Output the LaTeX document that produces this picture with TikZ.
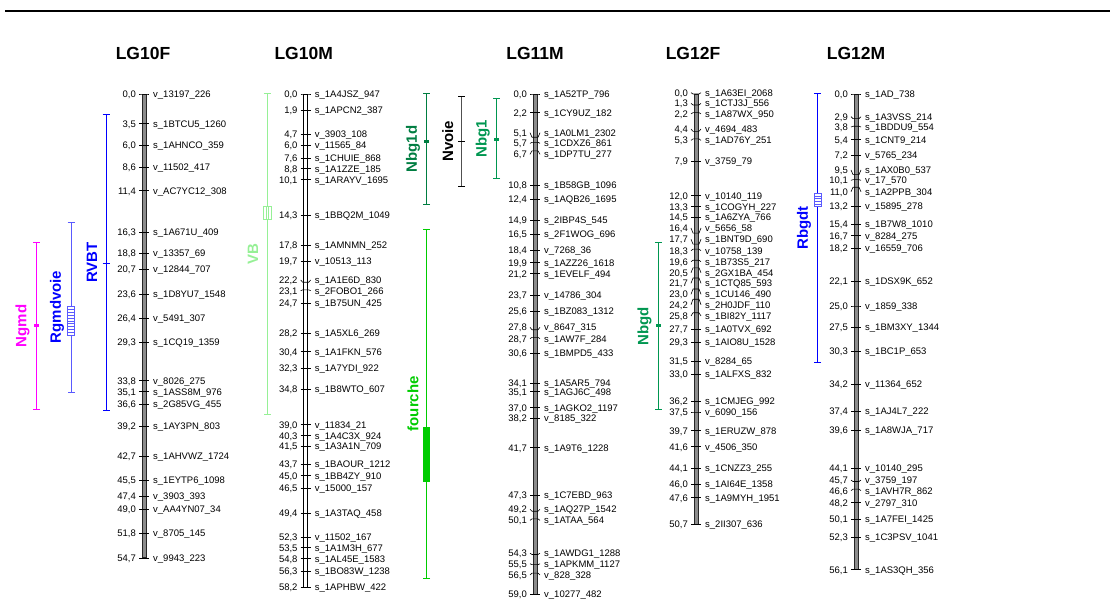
\documentclass[tikz,border=0pt]{standalone}
\usepackage{fontspec}
\setmainfont{Liberation Sans}
\usetikzlibrary{arrows.meta,positioning}
\definecolor{rvbtblue}{RGB}{0,0,255}
\definecolor{rgmline}{RGB}{90,90,255}
\definecolor{ngmdpink}{RGB}{255,0,255}
\definecolor{vbgreen}{RGB}{150,240,150}
\definecolor{fourchegreen}{RGB}{0,204,0}
\definecolor{nbgdark}{RGB}{0,125,65}
\definecolor{nbggreen}{RGB}{0,150,80}
\definecolor{nvoiegray}{RGB}{80,80,80}
\tikzstyle{chrom}=[draw=black!85,fill=black!45,line width=0.8pt]
\tikzstyle{chromwhite}=[chrom,fill=white,draw=black,line width=0.9pt]
\tikzstyle{lgtitle}=[font=\fontsize{17.5}{20}\selectfont\bfseries,inner sep=0pt]
\tikzstyle{cmval}=[anchor=east,inner xsep=3pt,inner ysep=0pt,text height=6.8pt,text depth=0pt,font=\fontsize{9.5}{11}\selectfont,text=black]
\tikzstyle{mname}=[cmval,anchor=west,inner xsep=4pt]
\tikzstyle{tickline}=[line width=0.6pt,black]
\tikzstyle{qtl}=[line width=0.8pt,{Bar[width=7pt]}-{Bar[width=7pt]}]
\tikzstyle{qtlname}=[rotate=90,font=\fontsize{15}{18}\selectfont\bfseries,inner sep=0pt]
% one marker: prefix, index, position (cM), label shift (px), name
\newcommand{\markerrow}[5]{%
  \pgfmathsetmacro\yp{94+8.48*#3}%
  \pgfmathsetmacro\yq{\yp+#4}%
  \node[cmval] (#1-p#2) at (-5,\yq) {\pgfmathprintnumber[fixed,fixed zerofill,precision=1,use comma,assume math mode=true]{#3}};
  \node[mname] (#1-m#2) at (5,\yq) {#5};
  \draw[tickline] (#1-p#2.east) -- (-3,\yp) -- (3,\yp) -- (#1-m#2.west);
}
\begin{document}
\begin{tikzpicture}[x=1pt,y=-1pt]
\useasboundingbox (0,0) rectangle (1110,601);
\draw[line width=2.5pt] (5,11) -- (1110,11);

% LG10F
\begin{scope}[shift={(144,0)}]
  \node[lgtitle] (t10f) at (-1,53) {LG10F};
  \draw[chrom] (-2,94) rectangle (2,{94+8.48*54.7});
  \foreach \p/\d/\n [count=\i] in {0.0/0/v\_13197\_226, 3.5/0/s\_1BTCU5\_1260, 6.0/0/s\_1AHNCO\_359,
      8.6/0/v\_11502\_417, 11.4/0/v\_AC7YC12\_308, 16.3/0/s\_1A671U\_409, 18.8/0/v\_13357\_69,
      20.7/0/v\_12844\_707, 23.6/0/s\_1D8YU7\_1548, 26.4/0/v\_5491\_307, 29.3/0/s\_1CQ19\_1359,
      33.8/0/v\_8026\_275, 35.1/0/s\_1ASS8M\_976, 36.6/0/s\_2G85VG\_455, 39.2/0/s\_1AY3PN\_803,
      42.7/0/s\_1AHVWZ\_1724, 45.5/0/s\_1EYTP6\_1098, 47.4/0/v\_3903\_393, 49.0/0/v\_AA4YN07\_34,
      51.8/0/v\_8705\_145, 54.7/0/v\_9943\_223}
    \markerrow{f10}{\i}{\p}{\d}{\n};
\end{scope}

% LG10M
\begin{scope}[shift={(305.7,0)}]
  \node[lgtitle] (t10m) at (-2,53) {LG10M};
  \draw[chromwhite] (-2,94) rectangle (2,{94+8.48*58.2});
  \foreach \p/\d/\n [count=\i] in {0.0/0/s\_1A4JSZ\_947, 1.9/0/s\_1APCN2\_387, 4.7/0/v\_3903\_108,
      6.0/0/v\_11565\_84, 7.6/0/s\_1CHUIE\_868, 8.8/0/s\_1A1ZZE\_185, 10.1/0/s\_1ARAYV\_1695,
      14.3/0/s\_1BBQ2M\_1049, 17.8/0/s\_1AMNMN\_252, 19.7/0/v\_10513\_113, 22.2/-2.3/s\_1A1E6D\_830,
      23.1/0.8/s\_2FOBO1\_266, 24.7/0/s\_1B75UN\_425, 28.2/0/s\_1A5XL6\_269, 30.4/0/s\_1A1FKN\_576,
      32.3/0/s\_1A7YDI\_922, 34.8/0/s\_1B8WTO\_607, 39.0/0/v\_11834\_21, 40.3/0/s\_1A4C3X\_924,
      41.5/0/s\_1A3A1N\_709, 43.7/0/s\_1BAOUR\_1212, 45.0/0/s\_1BB4ZY\_910, 46.5/0/v\_15000\_157,
      49.4/0/s\_1A3TAQ\_458, 52.3/0/v\_11502\_167, 53.5/0/s\_1A1M3H\_677, 54.8/0/s\_1AL45E\_1583,
      56.3/0/s\_1BO83W\_1238, 58.2/0/s\_1APHBW\_422}
    \markerrow{m10}{\i}{\p}{\d}{\n};
\end{scope}

% LG11M
\begin{scope}[shift={(535,0)}]
  \node[lgtitle] (t11m) at (0,53) {LG11M};
  \draw[chrom] (-2,94) rectangle (2,{94+8.48*59.0});
  \foreach \p/\d/\n [count=\i] in {0.0/0/s\_1A52TP\_796, 2.2/0/s\_1CY9UZ\_182, 5.1/-4.5/s\_1A0LM1\_2302,
      5.7/1/s\_1CDXZ6\_861, 6.7/3.5/s\_1DP7TU\_277, 10.8/0/s\_1B58GB\_1096, 12.4/0/s\_1AQB26\_1695,
      14.9/0/s\_2IBP4S\_545, 16.5/0/s\_2F1WOG\_696, 18.4/0/v\_7268\_36, 19.9/0/s\_1AZZ26\_1618,
      21.2/0/s\_1EVELF\_494, 23.7/0/v\_14786\_304, 25.6/0/s\_1BZ083\_1312, 27.8/-2.4/v\_8647\_315,
      28.7/1.3/s\_1AW7F\_284, 30.6/0/s\_1BMPD5\_433, 34.1/0/s\_1A5AR5\_794, 35.1/0/s\_1AGJ6C\_498,
      37.0/0/s\_1AGKO2\_1197, 38.2/0/v\_8185\_322, 41.7/0/s\_1A9T6\_1228, 47.3/0/s\_1C7EBD\_963,
      49.2/-1.9/s\_1AQ27P\_1542, 50.1/1.5/s\_1ATAA\_564, 54.3/-1.2/s\_1AWDG1\_1288,
      55.5/-0.9/s\_1APKMM\_1127, 56.5/1.9/v\_828\_328, 59.0/0/v\_10277\_482}
    \markerrow{m11}{\i}{\p}{\d}{\n};
\end{scope}

% LG12F
\begin{scope}[shift={(696,0)}]
  \node[lgtitle] (t12f) at (-3,53) {LG12F};
  \draw[chrom] (-2,94) rectangle (2,{94+8.48*50.7});
  \foreach \p/\d/\n [count=\i] in {0.0/-1.3/s\_1A63EI\_2068, 1.3/-1.7/s\_1CTJ3J\_556, 2.2/1.3/s\_1A87WX\_950,
      4.4/-2.3/v\_4694\_483, 5.3/1.4/s\_1AD76Y\_251, 7.9/0/v\_3759\_79, 12.0/0/v\_10140\_119,
      13.3/0/s\_1COGYH\_227, 14.5/0/s\_1A6ZYA\_766, 16.4/-5.1/v\_5656\_58, 17.7/-4.8/s\_1BNT9D\_690,
      18.3/1.5/v\_10758\_139, 19.6/1.5/s\_1B73S5\_217, 20.5/4.9/s\_2GX1BA\_454, 21.7/5.3/s\_1CTQ85\_593,
      23.0/5.3/s\_1CU146\_490, 24.2/5.5/s\_2H0JDF\_110, 25.8/3.2/s\_1BI82Y\_1117, 27.7/0/s\_1A0TVX\_692,
      29.3/0/s\_1AIO8U\_1528, 31.5/0/v\_8284\_65, 33.0/0/s\_1ALFXS\_832, 36.2/0/s\_1CMJEG\_992,
      37.5/0/v\_6090\_156, 39.7/0/s\_1ERUZW\_878, 41.6/0/v\_4506\_350, 44.1/0/s\_1CNZZ3\_255,
      46.0/0/s\_1AI64E\_1358, 47.6/0/s\_1A9MYH\_1951, 50.7/0/s\_2II307\_636}
    \markerrow{f12}{\i}{\p}{\d}{\n};
\end{scope}

% LG12M
\begin{scope}[shift={(856,0)}]
  \node[lgtitle] (t12m) at (0,53) {LG12M};
  \draw[chrom] (-2,94) rectangle (2,{94+8.48*56.1});
  \foreach \p/\d/\n [count=\i] in {0.0/0/s\_1AD\_738, 2.9/-1.9/s\_1A3VSS\_214, 3.8/0.8/s\_1BDDU9\_554,
      5.4/0/s\_1CNT9\_214, 7.2/0/v\_5765\_234, 9.5/-4.6/s\_1AX0B0\_537, 10.1/0.7/v\_17\_570,
      11.0/4.4/s\_1A2PPB\_304, 13.2/0/v\_15895\_278, 15.4/0/s\_1B7W8\_1010, 16.7/0/v\_8284\_275,
      18.2/0/v\_16559\_706, 22.1/0/s\_1DSX9K\_652, 25.0/0/v\_1859\_338, 27.5/0/s\_1BM3XY\_1344,
      30.3/0/s\_1BC1P\_653, 34.2/0/v\_11364\_652, 37.4/0/s\_1AJ4L7\_222, 39.6/0/s\_1A8WJA\_717,
      44.1/0/v\_10140\_295, 45.7/-1.5/v\_3759\_197, 46.6/1.5/s\_1AVH7R\_862, 48.2/0/v\_2797\_310,
      50.1/0/s\_1A7FEI\_1425, 52.3/0/s\_1C3PSV\_1041, 56.1/0/s\_1AS3QH\_356}
    \markerrow{m12}{\i}{\p}{\d}{\n};
\end{scope}

% QTLs on LG10F
\draw[qtl,ngmdpink] (36.7,242.3) -- (36.7,410);
\fill[ngmdpink] (34,323.5) rectangle (39.4,326.5);
\node[qtlname,text=ngmdpink] (ngmd) at (22.5,326) {Ngmd};
\draw[qtl,rgmline] (71,221.7) -- (71,392.3);
\draw[rgmline,fill=white,line width=0.7pt] (67.7,306.7) rectangle (74.3,335);
\foreach \h in {309.5,312.3,...,333}
  \draw[rgmline,line width=0.4pt] (67.7,\h) -- (74.3,\h);
\node[qtlname,text=rvbtblue] (rgmdvoie) at (57,307) {Rgmdvoie};
\draw[qtl,rvbtblue] (106,114.3) -- (106,411);
\draw[rvbtblue,line width=0.8pt] (102.5,263.3) -- (109.5,263.3);
\node[qtlname,text=rvbtblue] (rvbt) at (92,262.7) {RVBT};

% QTL on LG10M
\draw[qtl,vbgreen] (267.3,93.3) -- (267.3,414.3);
\draw[vbgreen,fill=white,line width=0.8pt] (263.6,206) rectangle (271,219.3);
\draw[vbgreen,line width=0.6pt] (266.3,206) -- (266.3,219.3) (268.3,206) -- (268.3,219.3);
\node[qtlname,text=vbgreen] (vb) at (253,253.8) {VB};

% QTLs on LG11M
\draw[qtl,nbgdark] (426.7,93.3) -- (426.7,205);
\fill[nbgdark] (424,140.2) rectangle (429.4,143.2);
\node[qtlname,text=nbgdark] (nbg1d) at (413,149) {Nbg1d};
\draw[qtl,fourchegreen] (426.7,229) -- (426.7,578.3);
\fill[fourchegreen] (423.2,427.3) rectangle (430.2,482.3);
\node[qtlname,text=fourchegreen] (fourche) at (413,403.7) {fourche};
\draw[qtl,nvoiegray,{Bar[width=7pt,black]}-{Bar[width=7pt,black]}] (461.7,96) -- (461.7,186.7);
\draw[black,line width=0.8pt] (458.2,141) -- (465.2,141);
\node[qtlname] (nvoie) at (447.7,141.3) {Nvoie};
\draw[qtl,nbggreen] (496.7,98.3) -- (496.7,179);
\fill[nbggreen] (494,137.8) rectangle (499.4,140.8);
\node[qtlname,text=nbggreen] (nbg1) at (482.7,138.7) {Nbg1};

% QTL on LG12F
\draw[qtl,nbggreen] (658.3,242.3) -- (658.3,410);
\fill[nbggreen] (655.6,323.5) rectangle (661,326.5);
\node[qtlname,text=nbggreen] (nbgd) at (644.5,326) {Nbgd};

% QTL on LG12M
\draw[qtl,rvbtblue] (817.7,93.3) -- (817.7,362.3);
\draw[rgmline,fill=white,line width=0.7pt] (814.5,193.3) rectangle (820.9,206.7);
\foreach \h in {196,198.7,...,205}
  \draw[rgmline,line width=0.4pt] (814.5,\h) -- (820.9,\h);
\node[qtlname,text=rvbtblue] (rbgdt) at (804,227.8) {Rbgdt};
\end{tikzpicture}
\end{document}
